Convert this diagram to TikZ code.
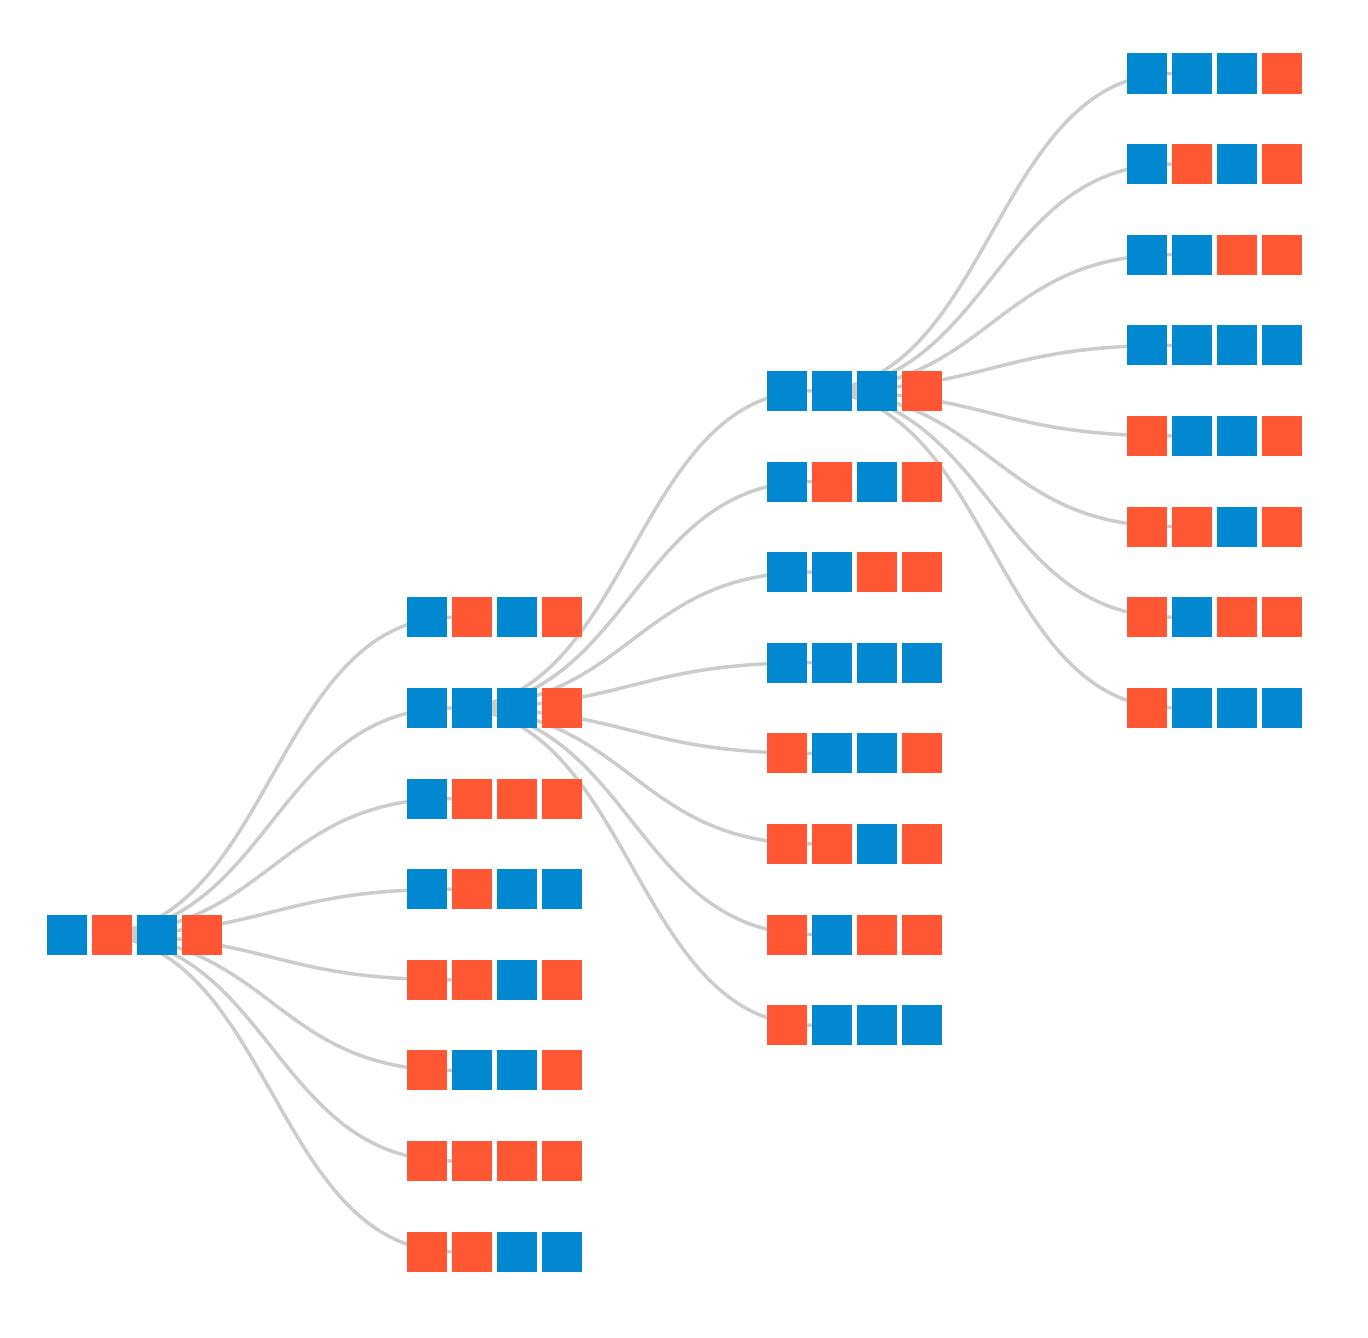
\documentclass[tikz,border=0pt]{standalone}
\usetikzlibrary{calc}
\definecolor{bl}{HTML}{0288D1}
\definecolor{rd}{HTML}{FF5733}
\definecolor{linkC}{HTML}{CCCCCC}
\tikzset{
  sq/.style={fill, minimum size=40pt, inner sep=0pt, outer sep=0pt, draw=none},
  link/.style={draw=linkC, line width=3.5pt}
}
\newcommand\lnk[2]{\draw[link] let \p1=(#1), \p2=(#2) in (#1) .. controls ({(\x1+\x2)/2},\y1) and ({(\x1+\x2)/2},\y2) .. (#2);}
\newcommand\grp[2]{\foreach \c [count=\i from 0] in {#2} {\node[sq,fill=\c] (#1-\i) at ($(#1)+(-25+45*\i,0)$) {};}}
\begin{document}
\begin{tikzpicture}[x=1pt,y=-1pt]
\useasboundingbox (0,0) rectangle (1368,1338);
\def\s{90.6}
\coordinate (a) at (92,934.7);
\foreach \k in {1,...,8} {
  \coordinate (b\k) at (452, {617.4+\s*(\k-1)});
  \coordinate (c\k) at (812, {390.9+\s*(\k-1)});
  \coordinate (d\k) at (1172, {73.5+\s*(\k-1)});
}
\foreach \k in {1,...,8} { \lnk{a}{b\k} \lnk{b2}{c\k} \lnk{c1}{d\k} }
\grp{a}{bl,rd,bl,rd}
\grp{b1}{bl,rd,bl,rd}
\grp{b2}{bl,bl,bl,rd}
\grp{b3}{bl,rd,rd,rd}
\grp{b4}{bl,rd,bl,bl}
\grp{b5}{rd,rd,bl,rd}
\grp{b6}{rd,bl,bl,rd}
\grp{b7}{rd,rd,rd,rd}
\grp{b8}{rd,rd,bl,bl}
\foreach \p in {c,d} {
  \grp{\p1}{bl,bl,bl,rd}
  \grp{\p2}{bl,rd,bl,rd}
  \grp{\p3}{bl,bl,rd,rd}
  \grp{\p4}{bl,bl,bl,bl}
  \grp{\p5}{rd,bl,bl,rd}
  \grp{\p6}{rd,rd,bl,rd}
  \grp{\p7}{rd,bl,rd,rd}
  \grp{\p8}{rd,bl,bl,bl}
}
\end{tikzpicture}
\end{document}
